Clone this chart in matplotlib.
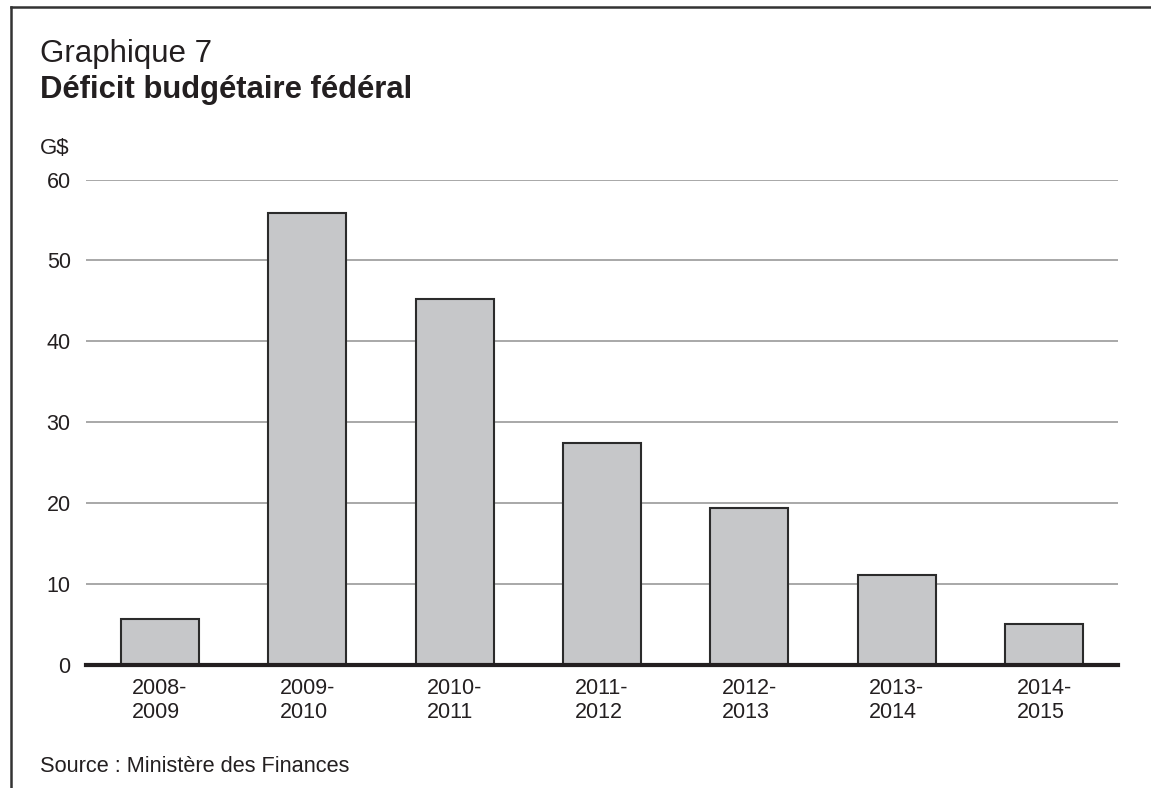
import matplotlib
matplotlib.use("Agg")
import matplotlib.pyplot as plt
from matplotlib.lines import Line2D

plt.rcParams['font.family'] = ['Liberation Sans', 'DejaVu Sans']

# Data
periods = ["2008-\n2009", "2009-\n2010", "2010-\n2011", "2011-\n2012",
           "2012-\n2013", "2013-\n2014", "2014-\n2015"]
deficit = [5.7, 55.9, 45.2, 27.4, 19.4, 11.1, 5.1]
y_ticks = [0, 10, 20, 30, 40, 50, 60]

W, H = 1151, 788
fig = plt.figure(figsize=(W / 100, H / 100), dpi=100)

# axes placed in pixel terms
left, right, top, bottom = 86, 1118, 179.5, 665
ax = fig.add_axes([left / W, 1 - bottom / H, (right - left) / W, (bottom - top) / H])

x = range(len(periods))
ax.bar(x, deficit, width=0.53, color="#c6c7c9", edgecolor="#2b2b2b",
       linewidth=1.5, zorder=3)

ax.set_xlim(-0.5, len(periods) - 0.5)
ax.set_ylim(0, 60)
ax.set_yticks(y_ticks)
ax.set_yticklabels([str(v) for v in y_ticks], fontsize=15.5, color="#231f20")
ax.set_xticks(list(x))
ax.set_xticklabels(periods, fontsize=15.5, color="#231f20",
                   multialignment="left", linespacing=1.25)
ax.tick_params(axis="both", length=0)
ax.tick_params(axis="y", pad=11)
ax.tick_params(axis="x", pad=9)

ax.grid(axis="y", color="#9a9a9a", linewidth=1.2, zorder=0)
for s in ["top", "right", "left"]:
    ax.spines[s].set_visible(False)
ax.spines["bottom"].set_linewidth(3)
ax.spines["bottom"].set_color("#231f20")
ax.spines["bottom"].set_zorder(4)

# titles and notes
fig.text(40 / W, 1 - 62 / H, "Graphique 7", fontsize=22.5, color="#231f20",
         va="baseline", ha="left")
fig.text(40 / W, 1 - 98 / H, "Déficit budgétaire fédéral", fontsize=22.3,
         fontweight="bold", color="#231f20", va="baseline", ha="left")
fig.text(40 / W, 1 - 154 / H, "G$", fontsize=16, color="#231f20",
         va="baseline", ha="left")
fig.text(40 / W, 1 - 772 / H, "Source : Ministère des Finances", fontsize=15.7,
         color="#231f20", va="baseline", ha="left")

# frame lines (left and top)
fig.add_artist(Line2D([11 / W, 11 / W], [0, 1 - 7 / H], transform=fig.transFigure,
                      color="#333333", linewidth=1.8))
fig.add_artist(Line2D([11 / W, 1], [1 - 7 / H, 1 - 7 / H], transform=fig.transFigure,
                      color="#333333", linewidth=1.8))

fig.savefig("out.png", dpi=100)
